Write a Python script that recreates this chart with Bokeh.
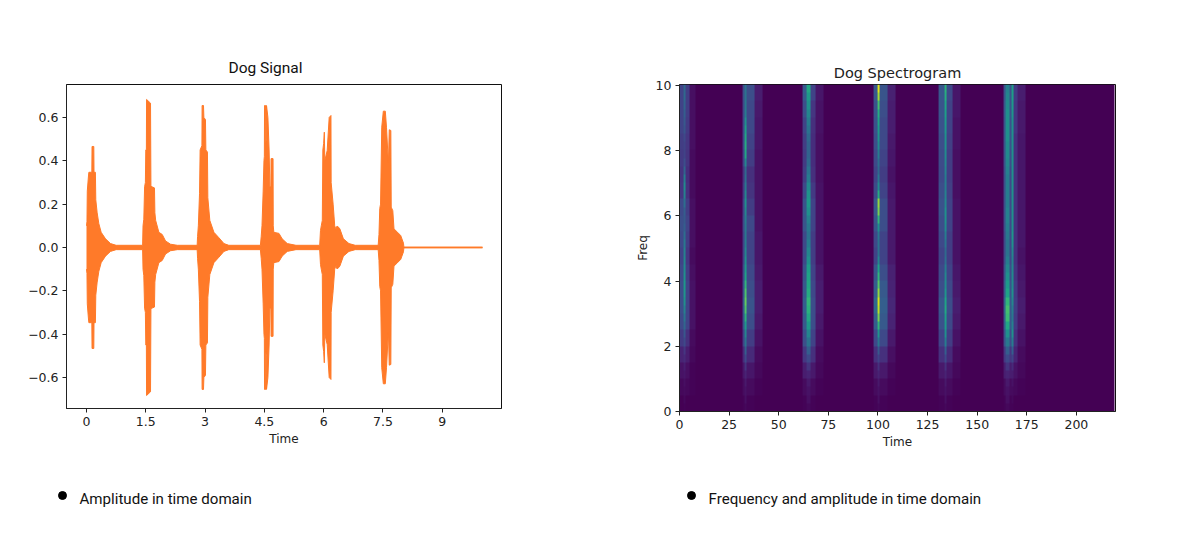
import numpy as np
from bokeh.core.properties import value
from bokeh.embed import file_html
from bokeh.layouts import column, row
from bokeh.models import FixedTicker, LinearColorMapper
from bokeh.palettes import Viridis256
from bokeh.plotting import figure
from bokeh.resources import INLINE

# ---- waveform envelope (time in s, amplitude) ----
wave_time = [0.0, 0.012, 0.02, 0.05, 0.06, 0.135, 0.14, 0.185, 0.19, 0.225, 0.235, 0.27, 0.312, 0.371, 0.481, 0.608, 0.75, 1.42,
             1.43, 1.45, 1.47, 1.49, 1.5, 1.515, 1.52, 1.62, 1.63, 1.72, 1.73, 1.75, 1.831, 1.916, 2.0, 2.127, 2.3, 2.8,
             2.81, 2.83, 2.86, 2.875, 2.92, 2.925, 2.96, 2.97, 3.01, 3.02, 3.06, 3.07, 3.12, 3.224, 3.35, 3.477, 3.6, 4.4,
             4.42, 4.44, 4.47, 4.49, 4.5, 4.505, 4.53, 4.535, 4.55, 4.555, 4.59, 4.62, 4.64, 4.665, 4.67, 4.72, 4.725, 4.74, 4.87, 4.95, 5.08, 5.3, 5.9,
             5.92, 5.94, 5.966, 5.98, 6.0, 6.017, 6.03, 6.09, 6.14, 6.185, 6.19, 6.24, 6.28, 6.32, 6.33, 6.36, 6.41, 6.5, 6.64, 6.8, 7.38,
             7.40, 7.42, 7.44, 7.47, 7.51, 7.56, 7.59, 7.62, 7.64, 7.66, 7.7, 7.71, 7.75, 7.78, 7.87, 7.95, 8.02, 8.03, 10.02]
wave_amp = [0.1, 0.12, 0.26, 0.33, 0.347, 0.347, 0.466, 0.466, 0.347, 0.347, 0.22, 0.16, 0.11, 0.07, 0.04, 0.018, 0.01, 0.01,
            0.1, 0.13, 0.28, 0.30, 0.45, 0.45, 0.683, 0.666, 0.282, 0.275, 0.16, 0.125, 0.07, 0.06, 0.03, 0.015, 0.01, 0.01,
            0.05, 0.1, 0.25, 0.45, 0.47, 0.655, 0.655, 0.6, 0.59, 0.45, 0.44, 0.23, 0.125, 0.07, 0.045, 0.018, 0.01, 0.01,
            0.05, 0.1, 0.26, 0.4, 0.42, 0.655, 0.655, 0.48, 0.5, 0.655, 0.6, 0.45, 0.28, 0.28, 0.41, 0.41, 0.1, 0.07, 0.065, 0.04, 0.018, 0.01, 0.01,
            0.078, 0.1, 0.125, 0.45, 0.48, 0.532, 0.4, 0.448, 0.6, 0.609, 0.3, 0.2, 0.1, 0.08, 0.097, 0.097, 0.086, 0.04, 0.018, 0.01, 0.01,
            0.06, 0.18, 0.2, 0.555, 0.629, 0.629, 0.555, 0.45, 0.394, 0.543, 0.54, 0.186, 0.17, 0.086, 0.07, 0.055, 0.02, 0.002, 0.002]
wave_ticks = [0, 1.5, 3, 4.5, 6, 7.5, 9]
wave_tick_labels = ["0", "1.5", "3", "4.5", "6", "7.5", "9"]
amp_ticks = [-0.6, -0.4, -0.2, 0.0, 0.2, 0.4, 0.6]
amp_tick_labels = ["\u22120.6", "\u22120.4", "\u22120.2", "0.0", "0.2", "0.4", "0.6"]

# ---- spectrogram columns: 20 bands (side columns) or 40 bands (core columns), 0 to 10, low to high ----
b1_left = [.0, .02, .05, .1, .17, .22, .24, .24, .22, .2, .22, .24, .22, .16, .15, .17, .18, .2, .2, .2]
b1_core = [.01, .02, .03, .04, .06, .08, .12, .16, .22, .27, .33, .38, .44, .5, .52, .53, .5, .48, .46, .44, .4, .36, .3, .28, .3, .36, .44, .48, .42, .32, .24, .2, .2, .22, .26, .28, .3, .32, .34, .33]
b1_right = [.0, .02, .04, .08, .14, .2, .2, .2, .18, .16, .18, .2, .18, .14, .13, .15, .16, .17, .18, .18]
b1_shoulder = [.0, .01, .01, .02, .03, .05, .05, .05, .04, .03, .04, .04, .04, .03, .03, .03, .04, .04, .04, .04]

b2_left = [.01, .03, .06, .12, .2, .26, .28, .25, .23, .2, .2, .22, .2, .17, .15, .2, .22, .22, .22, .24]
b2_core = [.02, .04, .05, .07, .1, .15, .22, .3, .38, .46, .54, .64, .72, .76, .72, .66, .58, .54, .5, .46, .42, .4, .4, .42, .46, .5, .46, .4, .36, .34, .46, .6, .62, .6, .56, .5, .42, .4, .38, .38]
b2_right = [.01, .03, .06, .12, .18, .24, .26, .24, .22, .2, .2, .22, .18, .15, .14, .18, .2, .22, .22, .24]
b2_shoulder = [.0, .01, .02, .03, .05, .07, .08, .08, .07, .06, .06, .05, .05, .05, .05, .05, .06, .06, .07, .08]

b3_left = [.01, .03, .08, .16, .24, .28, .3, .28, .25, .22, .22, .26, .26, .22, .18, .17, .18, .2, .24, .28]
b3_core = [.02, .04, .05, .07, .1, .15, .22, .3, .38, .46, .54, .6, .64, .66, .62, .6, .58, .56, .5, .46, .42, .38, .4, .44, .5, .54, .52, .48, .42, .38, .34, .32, .32, .34, .38, .42, .46, .5, .55, .6]
b3_right = [.01, .03, .07, .14, .2, .24, .24, .22, .2, .18, .18, .2, .2, .17, .14, .13, .13, .14, .16, .2]
b3_shoulder = [.0, .01, .02, .03, .05, .07, .08, .08, .07, .05, .05, .05, .05, .05, .04, .04, .04, .05, .05, .06]

b4_left = [.01, .03, .07, .14, .22, .3, .34, .3, .26, .2, .22, .26, .28, .23, .2, .22, .24, .25, .26, .28]
b4_core = [.02, .04, .05, .07, .1, .14, .2, .28, .4, .52, .66, .8, .9, .94, .84, .74, .66, .58, .46, .38, .38, .4, .5, .66, .8, .84, .62, .48, .4, .34, .36, .42, .48, .52, .55, .58, .62, .7, .86, .96]
b4_right = [.01, .03, .07, .14, .22, .28, .3, .28, .24, .2, .2, .24, .24, .2, .18, .2, .22, .22, .24, .26]
b4_shoulder = [.0, .01, .02, .04, .07, .1, .11, .1, .09, .07, .07, .07, .07, .06, .05, .06, .07, .08, .08, .09]

b5_left = [.01, .03, .07, .14, .2, .25, .27, .24, .22, .2, .22, .24, .25, .24, .22, .23, .24, .25, .26, .27]
b5_core = [.02, .04, .05, .07, .1, .14, .22, .3, .42, .5, .54, .56, .6, .58, .52, .48, .46, .42, .36, .34, .38, .42, .48, .5, .5, .46, .44, .42, .42, .44, .46, .48, .5, .5, .52, .54, .56, .58, .62, .64]
b5_right = [.01, .03, .06, .12, .18, .22, .24, .22, .2, .18, .18, .2, .2, .19, .18, .18, .19, .2, .2, .22]
b5_shoulder = [.0, .01, .02, .03, .05, .07, .08, .07, .06, .05, .05, .05, .05, .04, .04, .04, .05, .05, .06, .06]

b6_left = [.01, .03, .08, .16, .25, .3, .32, .28, .25, .22, .22, .24, .24, .24, .24, .25, .26, .26, .27, .26]
b6_core = [.02, .04, .05, .07, .1, .15, .22, .3, .4, .5, .6, .68, .7, .66, .58, .54, .5, .46, .42, .38, .38, .4, .42, .44, .44, .42, .42, .42, .42, .44, .46, .48, .48, .5, .5, .5, .5, .48, .46, .44]
b6_mid = [.01, .03, .08, .16, .24, .28, .28, .26, .24, .22, .22, .22, .22, .22, .22, .24, .25, .25, .26, .26]
b6_core2 = [.01, .02, .03, .05, .08, .12, .2, .3, .42, .5, .44, .4, .42, .46, .5, .48, .48, .46, .44, .46, .5, .52, .5, .5, .5, .5, .5, .5, .5, .5, .5, .5, .5, .5, .5, .5, .52, .54, .56, .56]
b6_right = [.0, .02, .05, .1, .14, .17, .18, .17, .15, .14, .14, .14, .14, .14, .14, .14, .14, .16, .16, .17]
b6_shoulder = [.0, .01, .02, .03, .05, .07, .08, .07, .06, .05, .06, .06, .06, .06, .06, .06, .06, .07, .07, .08]

spec_columns = [
    (0, [b1_left, b1_left, b1_core, b1_right, b1_right, b1_shoulder, b1_shoulder, b1_shoulder]),
    (32, [b2_left, b2_core, b2_right, b2_right, b2_right, b2_right, b2_shoulder, b2_shoulder, b2_shoulder, b2_shoulder]),
    (62, [b3_left, b3_left, b3_core, b3_core, b3_right, b3_right, b3_right, b3_shoulder, b3_shoulder, b3_shoulder, b3_shoulder]),
    (98, [b4_left, b4_left, b4_core, b4_right, b4_right, b4_right, b4_right, b4_shoulder, b4_shoulder, b4_shoulder, b4_shoulder]),
    (131, [b5_left, b5_left, b5_left, b5_core, b5_right, b5_right, b5_right, b5_shoulder, b5_shoulder, b5_shoulder, b5_shoulder]),
    (164, [b6_left, b6_core, b6_core, b6_mid, b6_core2, b6_right, b6_right, b6_shoulder, b6_shoulder, b6_shoulder, b6_shoulder]),
]
spec_frames = 220
spec_bands = 40
spec_x_ticks = [0, 25, 50, 75, 100, 125, 150, 175, 200]
spec_y_ticks = [0, 2, 4, 6, 8, 10]

# ---- captions below the charts ----
caption_texts = ["Amplitude in time domain", "Frequency and amplitude in time domain"]

TICK_FONT = "DejaVu Sans"
ORANGE = "#FF7A29"


def style(p, size="12.5px"):
    p.grid.visible = False
    p.outline_line_color = "#111111"
    p.outline_line_width = 1
    for ax in (p.xaxis[0], p.yaxis[0]):
        ax.axis_line_color = "#222222"
        ax.major_tick_line_color = "#222222"
        ax.major_tick_out = 4
        ax.major_tick_in = 0
        ax.minor_tick_line_color = None
        ax.major_label_text_font = TICK_FONT
        ax.major_label_text_font_size = size
        ax.major_label_text_color = "#222222"
        ax.major_label_standoff = 4
        ax.axis_label_text_font = TICK_FONT
        ax.axis_label_text_font_size = "12px"
        ax.axis_label_text_font_style = "normal"
        ax.axis_label_text_color = "#222222"
        ax.axis_label_standoff = 3


# ---- left: signal ----
left = figure(frame_width=435, frame_height=324, x_range=(-0.506, 10.5), y_range=(-0.743, 0.752),
              output_backend="svg", toolbar_location=None, min_border_left=66, min_border_right=89,
              min_border_top=84, min_border_bottom=62, background_fill_color="white",
              border_fill_color="white", title="Dog Signal")
style(left)
left.title.text_font = "Roboto"
left.title.text_font_size = "15.5px"
left.title.text_font_style = "normal"
left.title.text_color = "#111111"
left.title.align = "left"
left.title.offset = 162
left.title.standoff = 16

upper = wave_amp
lower = [-a for a in wave_amp]
left.varea(x=wave_time, y1=upper, y2=lower, fill_color=ORANGE)
left.line(x=wave_time, y=upper, line_color=ORANGE, line_width=1)
left.line(x=wave_time, y=lower, line_color=ORANGE, line_width=1)

left.xaxis[0].ticker = FixedTicker(ticks=wave_ticks)
left.xaxis[0].major_label_overrides = dict(zip(wave_ticks, wave_tick_labels))
left.yaxis[0].ticker = FixedTicker(ticks=amp_ticks)
left.yaxis[0].major_label_overrides = dict(zip(amp_ticks, amp_tick_labels))
left.xaxis[0].axis_label = "Time"

# ---- right: spectrogram ----
grid = np.zeros((spec_bands, spec_frames))
for start, cols in spec_columns:
    for i, col in enumerate(cols):
        # side columns are read at half the frequency detail of the core columns
        grid[:, start + i] = col if len(col) == spec_bands else np.repeat(col, 2)

right = figure(frame_width=436, frame_height=327, x_range=(0, 219.7), y_range=(0, 10.03),
               output_backend="svg", toolbar_location=None, min_border_left=89, min_border_right=60,
               min_border_top=84, min_border_bottom=59, background_fill_color="white",
               border_fill_color="white", title="Dog Spectrogram")
style(right)
right.title.text_font = "DejaVu Sans"
right.title.text_font_size = "14.5px"
right.title.text_font_style = "normal"
right.title.text_color = "#222222"
right.title.align = "center"
right.title.standoff = 7

mapper = LinearColorMapper(palette=Viridis256, low=0, high=1)
right.image(image=[grid], x=0, y=0, dw=219.2, dh=10.03, color_mapper=mapper)

right.xaxis[0].ticker = FixedTicker(ticks=spec_x_ticks)
right.yaxis[0].ticker = FixedTicker(ticks=spec_y_ticks)
right.xaxis[0].axis_label = "Time"
right.yaxis[0].axis_label = "Freq"

# ---- caption strip: its ranges equal the page's pixels ----
strip = figure(width=1175, height=60, x_range=(0, 1175), y_range=(530, 470), output_backend="svg",
               toolbar_location=None, min_border=0, outline_line_color=None, background_fill_color="white",
               border_fill_color="white")
strip.axis.visible = False
strip.grid.visible = False
strip.scatter(x=[62, 691], y=[495, 495], size=8, marker="circle", fill_color="#000000", line_color="#000000")
strip.text(x=[79, 708], y=[498, 498], text=caption_texts, text_font=value("Roboto"), text_font_size="15.1px",
           text_color="#111111", text_align="left", text_baseline="middle")

page = column(row(left, right, spacing=0), strip, spacing=0)
open("out.html", "w").write(file_html(page, INLINE))
